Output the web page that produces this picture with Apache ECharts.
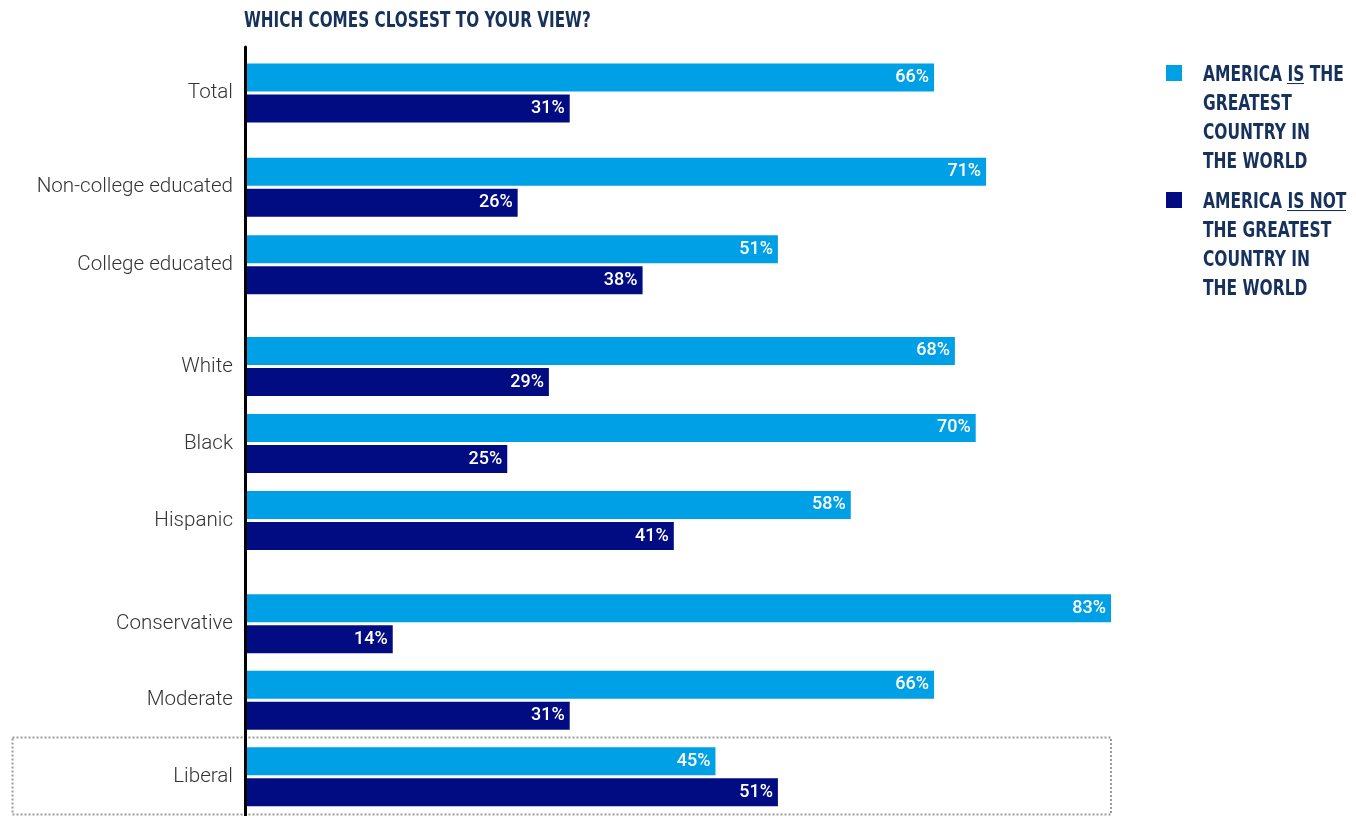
<!DOCTYPE html>
<html>
<head>
<meta charset="utf-8">
<script src="https://cdn.jsdelivr.net/npm/echarts@6/dist/echarts.min.js"></script>
<style>
  html, body { margin: 0; padding: 0; background: #fff; }
  #chart { width: 1356px; height: 816px; }
</style>
</head>
<body>
<div id="chart"></div>
<script>
// data
const categories = ['Total', 'Non-college educated', 'College educated', 'White', 'Black', 'Hispanic', 'Conservative', 'Moderate', 'Liberal'];
const groupSizes = [1, 2, 3, 3];
const isGreatest = [66, 71, 51, 68, 70, 58, 83, 66, 45];
const isNotGreatest = [31, 26, 38, 29, 25, 41, 14, 31, 51];
const seriesNames = ['AMERICA IS THE GREATEST COUNTRY IN THE WORLD', 'AMERICA IS NOT THE GREATEST COUNTRY IN THE WORLD'];
const legendLines = [
    'AMERICA {u|IS} THE\nGREATEST\nCOUNTRY IN\nTHE WORLD',
    'AMERICA {u|IS NOT}\nTHE GREATEST\nCOUNTRY IN\nTHE WORLD'
];
const titleText = 'WHICH COMES CLOSEST TO YOUR VIEW?';

const LIGHT = '#00a0e6';
const NAVY = '#020c82';
const INK = '#15315c';
const COND = "'DejaVu Sans Condensed', 'DejaVu Sans', sans-serif";

// canvas used as background of the underlined words
const underline = document.createElement('canvas');
underline.width = 4;
underline.height = 58;
const uctx = underline.getContext('2d');
uctx.fillStyle = INK;
uctx.fillRect(0, 49, 4, 3);

// one grid per group so the gaps between groups can differ
const gridBoxes = [
    { top: 54.5, height: 77 },
    { top: 148.5, height: 155 },
    { top: 328, height: 231 },
    { top: 585.5, height: 229.5 }
];

const chart = echarts.init(document.getElementById('chart'), null, { renderer: 'canvas' });

const grids = [];
const xAxes = [];
const yAxes = [];
const series = [];
let start = 0;
groupSizes.forEach((n, g) => {
    const cats = categories.slice(start, start + n);
    grids.push({ left: 247, width: 1041, top: gridBoxes[g].top, height: gridBoxes[g].height });
    xAxes.push({ gridIndex: g, type: 'value', min: 0, max: 100, show: false });
    yAxes.push({
        gridIndex: g,
        type: 'category',
        inverse: true,
        data: cats,
        axisLine: { show: false },
        axisTick: { show: false },
        axisLabel: { margin: 14, fontFamily: 'Roboto', fontWeight: 300, fontSize: 20.6, color: '#333333' }
    });
    [isGreatest, isNotGreatest].forEach((vals, s) => {
        series.push({
            name: seriesNames[s],
            type: 'bar',
            xAxisIndex: g,
            yAxisIndex: g,
            barWidth: 28,
            barGap: '11%',
            itemStyle: { color: s === 0 ? LIGHT : NAVY },
            label: {
                show: true,
                position: 'insideRight',
                distance: 5,
                formatter: '{c}%',
                color: '#ffffff',
                fontFamily: 'Roboto',
                fontWeight: 500,
                fontSize: 18
            },
            data: vals.slice(start, start + n)
        });
    });
    start += n;
});

// extra empty grid that only carries the continuous vertical axis line
grids.push({ left: 245, width: 1041, top: 47, bottom: 0 });
xAxes.push({ gridIndex: 4, type: 'value', show: false });
yAxes.push({
    gridIndex: 4,
    type: 'value',
    axisLine: { show: true, lineStyle: { color: '#000000', width: 3 } },
    axisTick: { show: false },
    axisLabel: { show: false },
    splitLine: { show: false }
});

// legend drawn as graphic so the condensed lettering can be squeezed
const legendTops = [65, 192];
const legendGraphics = [];
seriesNames.forEach((name, i) => {
    legendGraphics.push({
        type: 'rect',
        shape: { x: 1166, y: legendTops[i], width: 16, height: 16 },
        style: { fill: i === 0 ? LIGHT : NAVY }
    });
    legendGraphics.push({
        type: 'text',
        x: 1203,
        y: legendTops[i] + 8 - 14.5 + 3,
        scaleX: 0.82,
        style: {
            text: legendLines[i],
            font: 'bold 21px ' + COND,
            fill: INK,
            lineHeight: 29,
            verticalAlign: 'top',
            rich: {
                u: {
                    font: 'bold 21px ' + COND,
                    fill: INK,
                    lineHeight: 29,
                    backgroundColor: { image: underline }
                }
            }
        }
    });
});

const options = {
    animation: false,
    grid: grids,
    xAxis: xAxes,
    yAxis: yAxes,
    series: series,
    graphic: [
        {
            type: 'text',
            x: 244,
            y: 21.5,
            scaleX: 0.77,
            style: {
                text: titleText,
                font: 'bold 22px ' + COND,
                fill: INK,
                verticalAlign: 'middle'
            }
        },
        {
            type: 'rect',
            shape: { x: 12.5, y: 737.5, width: 1098.5, height: 77 },
            style: { fill: null, stroke: '#9c9c9c', lineWidth: 2, lineDash: [2, 2] },
            z: 0
        }
    ].concat(legendGraphics)
};

chart.setOption(options);

window.addEventListener('resize', () => {
    chart.resize();
});
</script>
</body>
</html>
